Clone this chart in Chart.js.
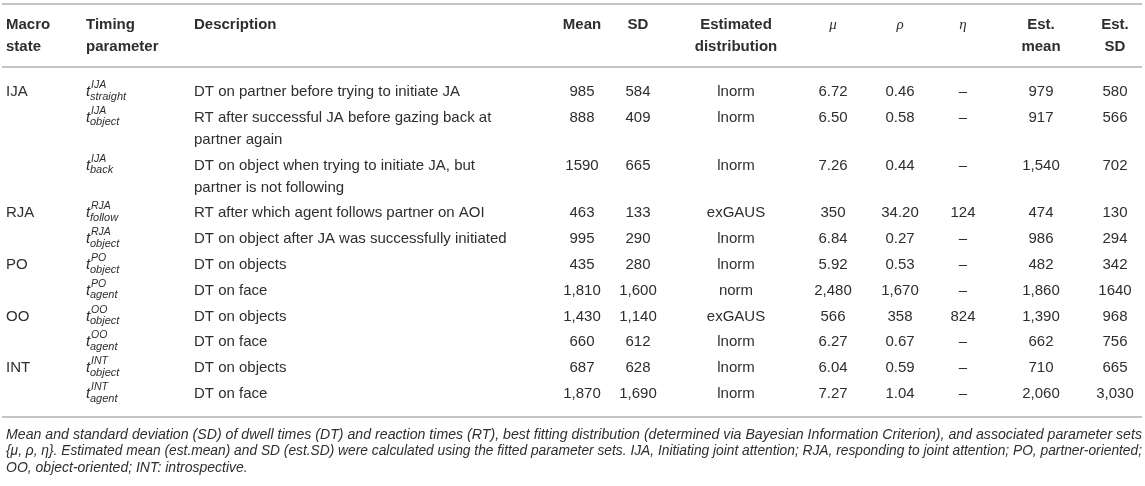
<!DOCTYPE html>
<html><head><meta charset="utf-8">
<script src="https://cdn.jsdelivr.net/npm/chart.js@4.4.1/dist/chart.umd.min.js"></script>
<style>html,body{margin:0;padding:0;background:#fff}#wrap{width:1145px;height:486px;position:relative}</style>
</head><body><div id="wrap"><canvas id="c"></canvas></div>
<script>
// ---------- DATA ----------
const headerLines = [['Macro','state'],['Timing','parameter'],['Description'],['Mean'],['SD'],['Estimated','distribution'],['μ'],['ρ'],['η'],['Est.','mean'],['Est.','SD']];
const macroStates = ['IJA','','','RJA','','PO','','OO','','INT',''];
const paramSup = ['IJA','IJA','IJA','RJA','RJA','PO','PO','OO','OO','INT','INT'];
const paramSub = ['straight','object','back','follow','object','object','agent','object','agent','object','agent'];
const descriptions = [
  ['DT on partner before trying to initiate JA'],
  ['RT after successful JA before gazing back at','partner again'],
  ['DT on object when trying to initiate JA, but','partner is not following'],
  ['RT after which agent follows partner on AOI'],
  ['DT on object after JA was successfully initiated'],
  ['DT on objects'],
  ['DT on face'],
  ['DT on objects'],
  ['DT on face'],
  ['DT on objects'],
  ['DT on face']
];
const meanVals = ['985','888','1590','463','995','435','1,810','1,430','660','687','1,870'];
const sdVals = ['584','409','665','133','290','280','1,600','1,140','612','628','1,690'];
const distributions = ['lnorm','lnorm','lnorm','exGAUS','lnorm','lnorm','norm','exGAUS','lnorm','lnorm','lnorm'];
const muVals = ['6.72','6.50','7.26','350','6.84','5.92','2,480','566','6.27','6.04','7.27'];
const rhoVals = ['0.46','0.58','0.44','34.20','0.27','0.53','1,670','358','0.67','0.59','1.04'];
const etaVals = ['–','–','–','124','–','–','–','824','–','–','–'];
const estMeanVals = ['979','917','1,540','474','986','482','1,860','1,390','662','710','2,060'];
const estSdVals = ['580','566','702','130','294','342','1640','968','756','665','3,030'];
const footnoteLines = [
  'Mean and standard deviation (SD) of dwell times (DT) and reaction times (RT), best fitting distribution (determined via Bayesian Information Criterion), and associated parameter sets',
  '{μ, ρ, η}. Estimated mean (est.mean) and SD (est.SD) were calculated using the fitted parameter sets. IJA, Initiating joint attention; RJA, responding to joint attention; PO, partner-oriented;',
  'OO, object-oriented; INT: introspective.'
];

// ---------- LAYOUT ----------
const W = 1145, H = 486;
const SANS = '"Liberation Sans", Arial, Helvetica, sans-serif';
const TEXT = '#2e2e2e';
const RULE = '#b0b0b0';
const ruleLeft = 2, ruleRight = 1142;
const rules = [4, 67, 417];
const headerBase = [29, 51];
// column anchors: [x, align]
const colAnchors = [[6,'left'],[86,'left'],[194,'left'],[582,'center'],[638,'center'],[736,'center'],[833,'center'],[900,'center'],[963,'center'],[1041,'center'],[1115,'center']];
const firstBaseline = 96, rowPitch = 25.8, linePitch = 22;
const footBase = [439, 455, 472];

function rowBaselines(){
  const out = []; let y = firstBaseline;
  descriptions.forEach(d => { out.push(y); y += rowPitch + (d.length - 1) * linePitch; });
  return out;
}
const baselines = rowBaselines();

const columns = [macroStates, null, descriptions, meanVals, sdVals, distributions, muVals, rhoVals, etaVals, estMeanVals, estSdVals];

const datasets = columns.map((col, ci) => ({
  label: 'col' + ci,
  colIndex: ci,
  data: baselines.map((b, ri) => ({ x: colAnchors[ci][0], y: b, r: ri })),
  pointRadius: 0,
  showLine: false
}));

const tablePlugin = {
  id: 'tableText',
  afterDatasetsDraw(chart){
    const ctx = chart.ctx;
    const xs = chart.scales.x, ys = chart.scales.y;
    ctx.save();
    // rules
    ctx.strokeStyle = RULE; ctx.lineWidth = 1.6;
    rules.forEach(r => {
      const py = ys.getPixelForValue(r);
      ctx.beginPath(); ctx.moveTo(xs.getPixelForValue(ruleLeft), py); ctx.lineTo(xs.getPixelForValue(ruleRight), py); ctx.stroke();
    });
    ctx.fillStyle = TEXT;
    ctx.textBaseline = 'alphabetic';
    // headers
    headerLines.forEach((lines, ci) => {
      const greek = ci >= 6 && ci <= 8;
      ctx.font = greek ? 'italic 15px "Liberation Serif", "DejaVu Serif", serif' : 'bold 15px ' + SANS;
      ctx.textAlign = colAnchors[ci][1];
      lines.forEach((t, li) => ctx.fillText(t, xs.getPixelForValue(colAnchors[ci][0]), ys.getPixelForValue(headerBase[li])));
    });
    // cells
    chart.data.datasets.forEach((ds, di) => {
      const meta = chart.getDatasetMeta(di);
      const ci = ds.colIndex;
      meta.data.forEach((pt, ri) => {
        const px = pt.x, py = pt.y;
        if (ci === 1) {
          ctx.textAlign = 'left';
          ctx.font = 'italic 15px ' + SANS;
          ctx.fillText('t', px, py);
          ctx.font = 'italic 10.5px ' + SANS;
          ctx.fillText(paramSup[ri], px + 5, py - 8);
          ctx.font = 'italic 11px ' + SANS;
          ctx.fillText(paramSub[ri], px + 4, py + 3.5);
          return;
        }
        ctx.font = '15px ' + SANS;
        ctx.textAlign = colAnchors[ci][1];
        const v = columns[ci][ri];
        if (Array.isArray(v)) {
          v.forEach((line, li) => ctx.fillText(line, px, py + li * linePitch));
        } else {
          ctx.fillText(v, px, py);
        }
      });
    });
    // footnote (justified lines except the last)
    ctx.font = 'italic 14px ' + SANS;
    ctx.textAlign = 'left';
    const fx = xs.getPixelForValue(6), fRight = xs.getPixelForValue(ruleRight);
    footnoteLines.forEach((t, i) => {
      const py = ys.getPixelForValue(footBase[i]);
      if (i < footnoteLines.length - 1) {
        const w = ctx.measureText(t).width;
        const s = (fRight - fx) / w;
        ctx.save(); ctx.translate(fx, py); ctx.scale(s, 1); ctx.fillText(t, 0, 0); ctx.restore();
      } else {
        ctx.fillText(t, fx, py);
      }
    });
    ctx.restore();
  }
};

const canvas = document.getElementById('c');
canvas.width = W; canvas.height = H;
new Chart(canvas, {
  type: 'scatter',
  data: { datasets },
  options: {
    responsive: false,
    maintainAspectRatio: false,
    animation: false,
    layout: { padding: 0 },
    scales: {
      x: { type: 'linear', min: 0, max: W, display: false },
      y: { type: 'linear', min: 0, max: H, reverse: true, display: false }
    },
    plugins: { legend: { display: false }, tooltip: { enabled: false } },
    events: []
  },
  plugins: [tablePlugin]
});
</script>
</body></html>
